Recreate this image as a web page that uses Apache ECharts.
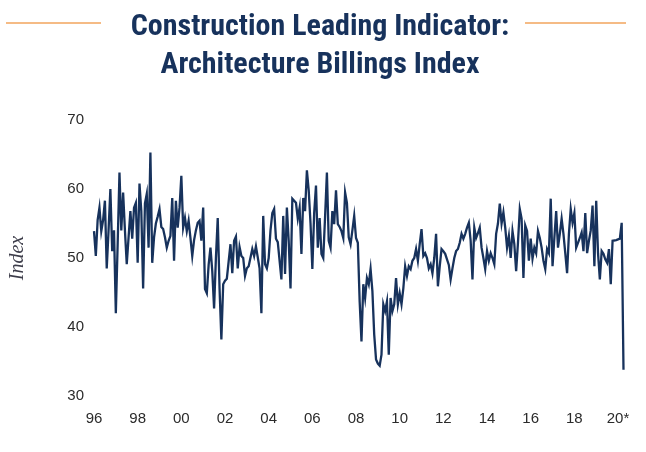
<!DOCTYPE html>
<html>
<head>
<meta charset="utf-8">
<script src="https://cdn.jsdelivr.net/npm/echarts@6/dist/echarts.min.js"></script>
<style>
html,body{margin:0;padding:0;background:#fff;}
#chart{width:646px;height:452px;}
</style>
</head>
<body>
<div id="chart"></div>
<script>
// Monthly Architecture Billings Index, Jan 1996 - Apr 2020
const abiValues = [
53.9, 50.3, 55.5, 57.3, 53.9, 55.5, 58.3, 48.5, 54,
60.0, 51.0, 54.0, 42.0, 52, 62.4, 54.0, 59.5, 54, 49.1,
53, 56.8, 52.8, 57.3, 58.0, 49.3, 60.8, 56.8, 45.6,
57.9, 59.3, 51.5, 65.3, 49.3, 53, 55.0, 56, 57.1, 54.5,
54.2, 53, 51.5, 52.5, 53.2, 58.7, 49.6, 58.3, 54.4, 57.3,
61.9, 54.4, 55.8, 53.9, 55.4, 52.9, 50.3, 52.6, 54,
55.1, 55.4, 52.5, 57.3, 45.5, 44.9, 49, 51.5, 48.1, 42.7,
50, 55.8, 45.6, 38.2, 46.2, 46.7, 47, 49.5, 52.0, 47.8,
52.5, 53.1, 48.5, 51.6, 50.3, 50.0, 47.4, 48.5, 48.8,
48.8, 51.3, 50.3, 51.7, 51.7, 48.5, 42.0, 56.1, 49.1, 48.5,
50, 54, 56.5, 57.1, 52.8, 52.3, 52.5, 46.9, 56.1, 47.7,
57.3, 52.5, 45.6, 58.6, 58.3, 58.0, 55.7, 57.3, 50.6,
58.7, 56.8, 62.7, 59.8, 55, 48.4, 56.5, 60.5, 51.5, 55.8,
50.6, 50.0, 56, 62.4, 52.5, 51.5, 56.8, 54.9, 59.8, 54.9,
54.5, 53.9, 52.9, 59.5, 58.0, 53, 52.0, 54, 56.1,
52.9, 52.2, 43.7, 37.9, 46.2, 44.2, 47.1, 46.2, 48.4, 45.2,
38.9, 35.3, 34.7, 34.4, 36.0, 43.3, 42.3, 43.7, 36.0, 44.2,
42.3, 43.3, 47.1, 43.3, 44.9, 43.3, 45.6, 48.8, 47.4,
48.8, 48.4, 49.6, 50, 51.3, 49.6, 52.0, 54.2, 50.3, 50.7,
50, 48.5, 49.1, 47.8, 50, 53.5, 45.9, 48.8, 51.3,
51.0, 50.6, 50.6, 49, 46.9, 48.5, 50.0, 51.0, 51.3, 52.2,
53.5, 52.8, 53.5, 54.4, 55.1, 52.5, 46.9, 54.4, 52.9, 53.6,
54.4, 51.5, 50.0, 48.4, 51.0, 49.6, 50.7, 50, 49.1,
53.5, 55.0, 57.9, 55.0, 56.6, 54.4, 51.5, 53.2, 50.0, 53.9,
52, 48.1, 52.2, 57.1, 55.7, 47.1, 54.7, 53.9, 49.6, 52.8,
49.9, 51.5, 50.7, 53.9, 52.9, 51.5, 49.6, 48.4, 51.3,
50.7, 58.6, 48.8, 52.9, 56.8, 51.5, 53.5, 55.7, 53.5, 50.7,
47.8, 53.5, 57.1, 55.1, 56.5, 51.5, 51.5, 52.9, 53.7,
51.0, 56.5, 50.7, 52.5, 54, 57.6, 48.8, 58.3, 50.7, 46.9,
51.0, 50.6, 49.8, 49.3, 51.3, 46.2, 52.5, 52.5, 52.6, 52.6,
52.8, 55.1, 33.8
];

const tickLabels = ["96","98","00","02","04","06","08","10","12","14","16","18","20*"];
const yTicks = [30, 40, 50, 60, 70];
const titleLines = ["Construction Leading Indicator:", "Architecture Billings Index"];

// month categories
const categories = [];
for (let y = 1996, m = 1; categories.length < abiValues.length; ) {
  categories.push(y + "-" + String(m).padStart(2, "0"));
  m++; if (m > 12) { m = 1; y++; }
}

const chart = echarts.init(document.getElementById('chart'), null, {renderer: 'canvas'});
const navy = '#17325c';
const titleFont = "'Roboto Condensed','Liberation Sans Narrow','DejaVu Sans Condensed',Roboto,sans-serif";

chart.setOption({
  animation: false,
  backgroundColor: '#ffffff',
  title: {
    text: titleLines.join('\n'),
    left: 315,
    top: 3,
    textAlign: 'center',
    textStyle: {
      fontFamily: titleFont,
      fontWeight: 'bold',
      fontSize: 30,
      lineHeight: 38,
      color: navy
    }
  },
  graphic: [
    {type: 'line', shape: {x1: 6, y1: 23, x2: 101, y2: 23}, style: {stroke: '#f2a55c', lineWidth: 1.5}},
    {type: 'line', shape: {x1: 525, y1: 23, x2: 626, y2: 23}, style: {stroke: '#f2a55c', lineWidth: 1.5}}
  ],
  grid: {left: 92.7, right: 22.5, top: 120, bottom: 56, containLabel: false},
  xAxis: {
    type: 'category',
    data: categories,
    boundaryGap: false,
    axisLine: {show: false},
    axisTick: {show: false},
    splitLine: {show: false},
    axisLabel: {
      interval: function (index) { return index % 24 === 0; },
      formatter: function (value, index) { return tickLabels[Math.round(index / 24)] || ''; },
      color: '#2b2b2b',
      fontFamily: "'Liberation Sans', Arial, sans-serif",
      fontSize: 15,
      margin: 15,
      hideOverlap: false
    }
  },
  yAxis: {
    type: 'value',
    min: yTicks[0],
    max: yTicks[yTicks.length - 1],
    interval: 10,
    axisLine: {show: false},
    axisTick: {show: false},
    splitLine: {show: false},
    axisLabel: {
      color: '#2b2b2b',
      fontFamily: "'Liberation Sans', Arial, sans-serif",
      fontSize: 15,
      margin: 10
    },
    name: 'Index',
    nameLocation: 'middle',
    nameRotate: 90,
    nameGap: 66,
    nameTextStyle: {
      fontFamily: "'Liberation Serif','DejaVu Serif',serif",
      fontStyle: 'italic',
      fontSize: 20,
      color: '#3d3d4a'
    }
  },
  series: [{
    type: 'line',
    data: abiValues,
    showSymbol: false,
    symbol: 'none',
    lineStyle: {color: navy, width: 2.3, join: 'miter'},
    itemStyle: {color: navy}
  }]
});
</script>
</body>
</html>
